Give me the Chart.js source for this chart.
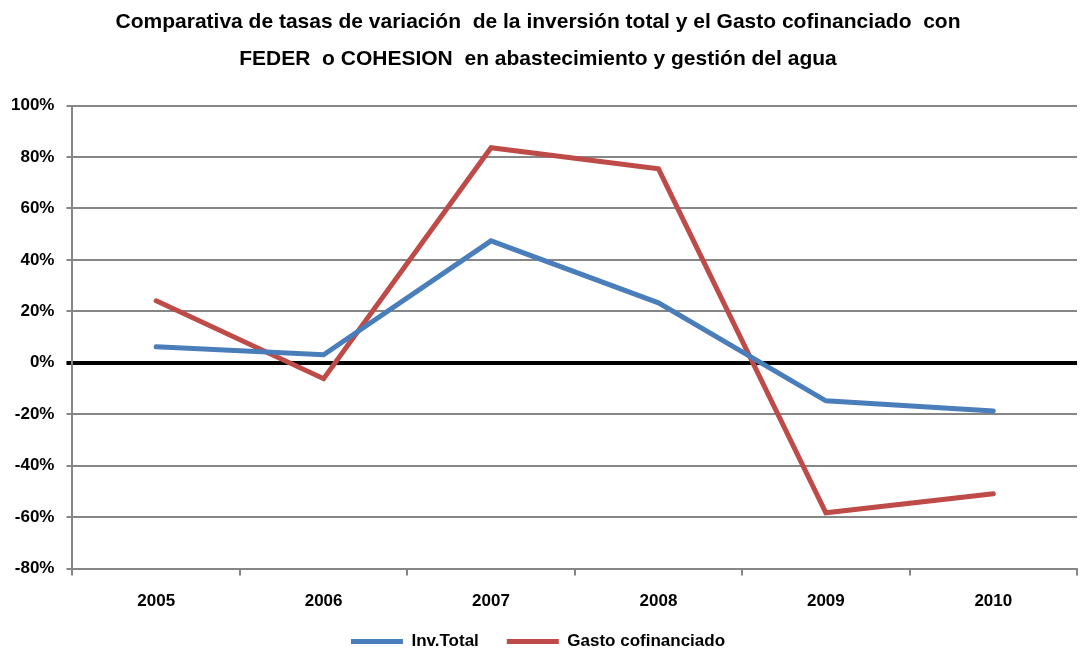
<!DOCTYPE html>
<html>
<head>
<meta charset="utf-8">
<script src="https://cdn.jsdelivr.net/npm/chart.js@4.4.0/dist/chart.umd.min.js"></script>
<style>
  html, body { margin: 0; padding: 0; background: #fff; }
  #wrap { width: 1081px; height: 652px; }
</style>
</head>
<body>
<div id="wrap"><canvas id="chart"></canvas></div>
<script>
// data
const years = ['2005', '2006', '2007', '2008', '2009', '2010'];
const invTotal = [6.2, 3.1, 47.4, 23.3, -14.8, -18.7];
const gastoCofin = [24.1, -6.2, 83.6, 75.4, -58.3, -50.9];
const yTicks = [-80, -60, -40, -20, 0, 20, 40, 60, 80, 100];

const fontFam = "'Liberation Sans', 'DejaVu Sans', sans-serif";

// legend padding also sets the gap between items, so lift the legend a bit after layout
const liftLegend = {
  id: 'liftLegend',
  afterLayout(chart) {
    const lg = chart.legend;
    if (!lg) return;
    lg.top -= 23;
    lg.bottom -= 23;
  }
};

const ctx = document.getElementById('chart').getContext('2d');

const chart = new Chart(ctx, {
  type: 'line',
  data: {
    labels: years,
    datasets: [
      {
        label: 'Inv.Total',
        data: invTotal,
        borderColor: '#4a7ebb',
        backgroundColor: '#4a7ebb',
        borderWidth: 5,
        borderCapStyle: 'round',
        pointRadius: 0,
        tension: 0,
        fill: false
      },
      {
        label: 'Gasto cofinanciado',
        data: gastoCofin,
        borderColor: '#be4b48',
        backgroundColor: '#be4b48',
        borderWidth: 5,
        borderCapStyle: 'round',
        pointRadius: 0,
        tension: 0,
        fill: false
      }
    ]
  },
  plugins: [liftLegend],
  options: {
    responsive: true,
    maintainAspectRatio: false,
    animation: false,
    layout: { padding: { left: -1, right: 4, top: 4, bottom: -31 } },
    plugins: {
      title: {
        display: true,
        text: ['Comparativa de tasas de variación  de la inversión total y el Gasto cofinanciado  con',
               'FEDER  o COHESION  en abastecimiento y gestión del agua'],
        color: '#000',
        font: { family: fontFam, size: 21, weight: 'bold', lineHeight: 1.75 },
        padding: { top: 0, bottom: 28 }
      },
      legend: {
        position: 'bottom',
        labels: {
          color: '#000',
          font: { family: fontFam, size: 17, weight: 'bold' },
          usePointStyle: true,
          pointStyle: 'line',
          pointStyleWidth: 52,
          padding: 28
        }
      },
      tooltip: { enabled: false }
    },
    scales: {
      y: {
        min: -80,
        max: 100,
        afterBuildTicks: (axis) => {
          axis.ticks = yTicks.map(v => ({ value: v }));
        },
        ticks: {
          color: '#000',
          font: { family: fontFam, size: 17, weight: 'bold' },
          padding: 12,
          callback: (v) => v + '%'
        },
        grid: {
          color: (c) => c.tick && c.tick.value === 0 ? '#000' : '#868686',
          lineWidth: (c) => c.tick && c.tick.value === 0 ? 4 : 2,
          tickLength: 6
        },
        border: { color: '#868686', width: 2 }
      },
      x: {
        offset: true,
        ticks: {
          color: '#000',
          font: { family: fontFam, size: 17, weight: 'bold' },
          padding: 16
        },
        grid: {
          offset: true,
          drawOnChartArea: false,
          color: '#868686',
          lineWidth: 2,
          tickLength: 7
        },
        border: { color: '#868686', width: 2 }
      }
    }
  }
});
</script>
</body>
</html>
